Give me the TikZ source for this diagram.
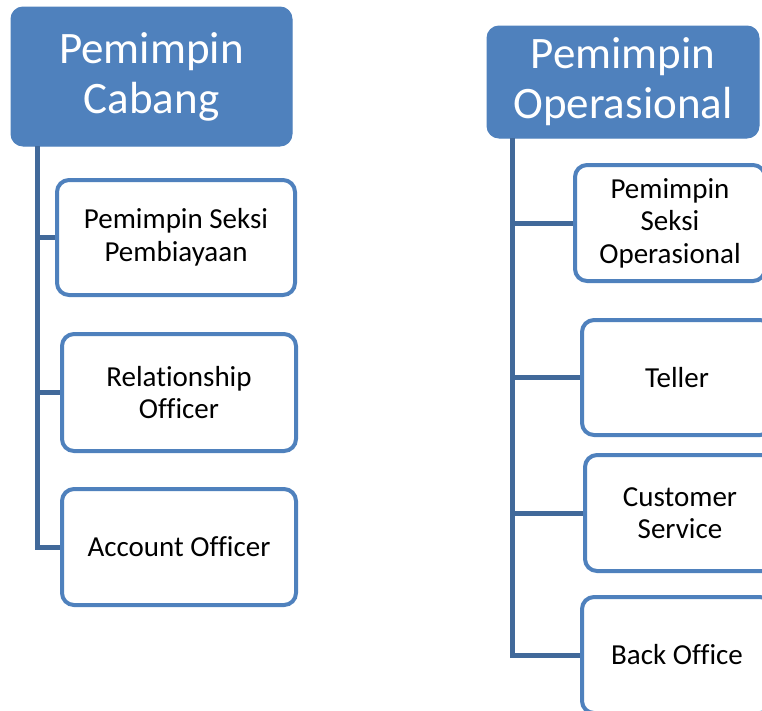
\documentclass[tikz,border=0pt]{standalone}
\usepackage{fontspec}
\setmainfont{Carlito}[Ligatures={NoCommon}]
\definecolor{accent}{HTML}{4F81BD}
\definecolor{spinec}{HTML}{41699A}
\tikzset{
  headbox/.style={fill=accent, draw=accent, line width=1pt, rounded corners=12pt, inner sep=0pt, align=center, text=white, font=\fontsize{45}{50}\selectfont},
  childbox/.style={fill=white, draw=accent, line width=4pt, rounded corners=12pt, inner sep=0pt, align=center, text=black, font=\fontsize{29}{32.5}\selectfont},
  spine/.style={draw=spinec, line width=5pt}
}
\begin{document}
\begin{tikzpicture}[x=1pt,y=-1pt]
\useasboundingbox (0,0) rectangle (762,710);
\clip (0,0) rectangle (762,710);
% left column
\node[headbox, minimum width=281pt, minimum height=139pt] (LT) at (151.5,76.5) {Pemimpin\\Cabang};
\node[childbox, minimum width=238pt, minimum height=115pt] (L1) at (176,237.5) {Pemimpin Seksi\\Pembiayaan};
\node[childbox, minimum width=234pt, minimum height=117pt] (L2) at (179,392.5) {Relationship\\Officer};
\node[childbox, minimum width=234pt, minimum height=116pt] (L3) at (179,547) {Account Officer};
\coordinate (ls) at (37,146);
\draw[spine] (ls) |- (L3.west);
\draw[spine] (ls |- L1.west) -- (L1.west);
\draw[spine] (ls |- L2.west) -- (L2.west);
% right column
\node[headbox, minimum width=272pt, minimum height=112pt] (RT) at (623,82) {Pemimpin\\Operasional};
\node[childbox, minimum width=190pt, minimum height=116pt] (R1) at (670,223) {Pemimpin\\Seksi\\Operasional};
\node[childbox, minimum width=190pt, minimum height=115pt] (R2) at (677,377.5) {Teller};
\node[childbox, minimum width=190pt, minimum height=116pt] (R3) at (680,513) {Customer\\Service};
\node[childbox, minimum width=190pt, minimum height=116pt] (R4) at (677,655) {Back Office};
\coordinate (rs) at (512,138);
\draw[spine] (rs) |- (R4.west);
\draw[spine] (rs |- R1.west) -- (R1.west);
\draw[spine] (rs |- R2.west) -- (R2.west);
\draw[spine] (rs |- R3.west) -- (R3.west);
\end{tikzpicture}
\end{document}
